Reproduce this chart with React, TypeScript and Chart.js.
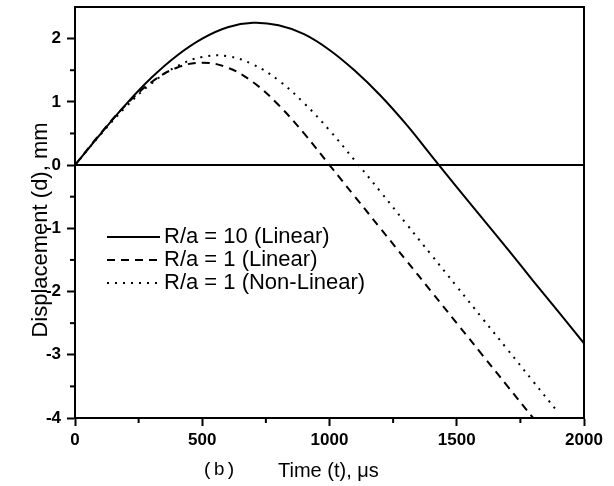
import { useEffect, useRef } from 'react';
import { Chart, registerables } from 'chart.js';

Chart.register(...registerables);

const FONT = '"Liberation Sans", Arial, Helvetica, sans-serif';

// Time (μs) and displacement (mm)
const timeSolid = [0, 100, 200, 300, 400, 500, 600, 700, 800, 900, 1000, 1100, 1200, 1300, 1400, 1500, 1600, 1700, 1800, 1900, 2000];
const dispSolid = [0, 0.49, 0.96, 1.38, 1.73, 2.0, 2.18, 2.25, 2.21, 2.07, 1.82, 1.49, 1.1, 0.65, 0.15, -0.35, -0.84, -1.33, -1.83, -2.32, -2.82];

const timeDashed = [0, 100, 200, 300, 400, 500, 600, 700, 800, 900, 1000, 1100, 1200, 1300, 1400, 1500, 1600, 1700, 1800];
const dispDashed = [0, 0.5, 0.95, 1.31, 1.54, 1.62, 1.54, 1.31, 0.95, 0.5, 0.0, -0.5, -1.0, -1.5, -2.0, -2.5, -3.0, -3.5, -4.0];

const timeDotted = [0, 100, 200, 300, 400, 500, 600, 700, 800, 900, 1000, 1100, 1200, 1300, 1400, 1500, 1600, 1700, 1800, 1890];
const dispDotted = [0, 0.48, 0.92, 1.29, 1.56, 1.71, 1.72, 1.59, 1.34, 0.98, 0.55, 0.07, -0.42, -0.92, -1.42, -1.92, -2.42, -2.92, -3.42, -3.87];

const seriesLabels = ['R/a = 10 (Linear)', 'R/a = 1 (Linear)', 'R/a = 1 (Non-Linear)'];
const seriesDashes = [[], [8, 6], [2, 6]];

const xMinorTicks = [250, 750, 1250, 1750];
const yMinorTicks = [-3.5, -2.5, -1.5, -0.5, 0.5, 1.5];

const xTitle = 'Time (t), μs';
const yTitle = 'Displacement (d), mm';
const panelLabel = '(b)';

const toPoints = (xs: number[], ys: number[]) => xs.map((x, i) => ({ x, y: ys[i] }));

const overlay = {
  id: 'overlay',
  beforeDatasetsDraw(chart: any) {
    const { ctx, chartArea: a, scales } = chart;
    ctx.save();
    ctx.strokeStyle = '#000';
    ctx.lineWidth = 2;
    const y0 = scales.y.getPixelForValue(0);
    ctx.beginPath();
    ctx.moveTo(a.left, y0);
    ctx.lineTo(a.right, y0);
    ctx.stroke();
    ctx.beginPath();
    ctx.moveTo(a.left, a.top);
    ctx.lineTo(a.right, a.top);
    ctx.lineTo(a.right, a.bottom);
    ctx.stroke();
    ctx.restore();
  },
  afterDraw(chart: any) {
    const { ctx, chartArea: a, scales } = chart;
    ctx.save();
    ctx.strokeStyle = '#000';
    ctx.fillStyle = '#000';
    ctx.lineWidth = 2;
    xMinorTicks.forEach((v) => {
      const px = scales.x.getPixelForValue(v);
      ctx.beginPath();
      ctx.moveTo(px, a.bottom);
      ctx.lineTo(px, a.bottom + 5);
      ctx.stroke();
    });
    yMinorTicks.forEach((v) => {
      const py = scales.y.getPixelForValue(v);
      ctx.beginPath();
      ctx.moveTo(a.left, py);
      ctx.lineTo(a.left - 5, py);
      ctx.stroke();
    });

    // legend
    const lx0 = a.left + 32;
    const lx1 = a.left + 85;
    const tx = a.left + 89;
    const rowY = [a.top + 230, a.top + 253, a.top + 276];
    ctx.font = `22px ${FONT}`;
    ctx.textBaseline = 'middle';
    ctx.textAlign = 'left';
    seriesLabels.forEach((label, i) => {
      ctx.setLineDash(seriesDashes[i]);
      ctx.beginPath();
      ctx.moveTo(lx0, rowY[i]);
      ctx.lineTo(lx1, rowY[i]);
      ctx.stroke();
      ctx.setLineDash([]);
      ctx.fillText(label, tx, rowY[i]);
    });

    // axis titles
    ctx.textBaseline = 'alphabetic';
    ctx.font = `20px ${FONT}`;
    ctx.textAlign = 'left';
    ctx.fillText(xTitle, 278, 477);

    ctx.font = `19px "Liberation Mono", "Courier New", monospace`;
    ctx.fillText(panelLabel, 202, 475);

    ctx.save();
    ctx.translate(47, 230);
    ctx.rotate(-Math.PI / 2);
    ctx.font = `22px ${FONT}`;
    ctx.textAlign = 'center';
    ctx.fillText(yTitle, 0, 0);
    ctx.restore();

    ctx.restore();
  },
};

export default function App() {
  const canvasRef = useRef<HTMLCanvasElement | null>(null);

  useEffect(() => {
    const canvas = canvasRef.current;
    if (!canvas) return;
    const mk = (i: number, xs: number[], ys: number[]) => ({
      label: seriesLabels[i],
      data: toPoints(xs, ys),
      borderColor: '#000',
      borderWidth: 2,
      borderDash: seriesDashes[i],
      pointRadius: 0,
      tension: 0.4,
      fill: false,
    });
    const chart = new Chart(canvas, {
      type: 'line',
      data: {
        datasets: [
          mk(0, timeSolid, dispSolid),
          mk(1, timeDashed, dispDashed),
          mk(2, timeDotted, dispDotted),
        ],
      },
      options: {
        responsive: false,
        animation: false,
        devicePixelRatio: 1,
        layout: { padding: { left: 0, top: 7, right: 30, bottom: 0 } },
        plugins: { legend: { display: false }, tooltip: { enabled: false } },
        scales: {
          x: {
            type: 'linear',
            min: 0,
            max: 2000,
            afterFit: (s: any) => {
              s.height = 68;
              s.paddingLeft = 0;
              s.paddingRight = 0;
            },
            ticks: {
              stepSize: 500,
              includeBounds: false,
              color: '#000',
              padding: 4,
              maxRotation: 0,
              callback: (v: any) => String(v),
              font: { family: FONT, size: 17, weight: 'bold' },
            },
            grid: {
              drawOnChartArea: false,
              drawTicks: true,
              tickLength: 8,
              tickWidth: 2,
              tickColor: '#000',
            },
            border: { display: true, color: '#000', width: 2 },
          },
          y: {
            type: 'linear',
            min: -4,
            max: 2.5,
            afterFit: (s: any) => {
              s.width = 75;
              s.paddingTop = 0;
              s.paddingBottom = 0;
            },
            ticks: {
              stepSize: 1,
              includeBounds: false,
              color: '#000',
              padding: 6,
              callback: (v: any) => String(v),
              font: { family: FONT, size: 17, weight: 'bold' },
            },
            grid: {
              drawOnChartArea: false,
              drawTicks: true,
              tickLength: 8,
              tickWidth: 2,
              tickColor: '#000',
            },
            border: { display: true, color: '#000', width: 2 },
          },
        },
      },
      plugins: [overlay],
    } as any);
    return () => chart.destroy();
  }, []);

  return (
    <div style={{ position: 'absolute', left: 0, top: 0, width: 614, height: 486, background: '#fff' }}>
      <canvas ref={canvasRef} width={614} height={486} style={{ display: 'block' }} />
    </div>
  );
}
